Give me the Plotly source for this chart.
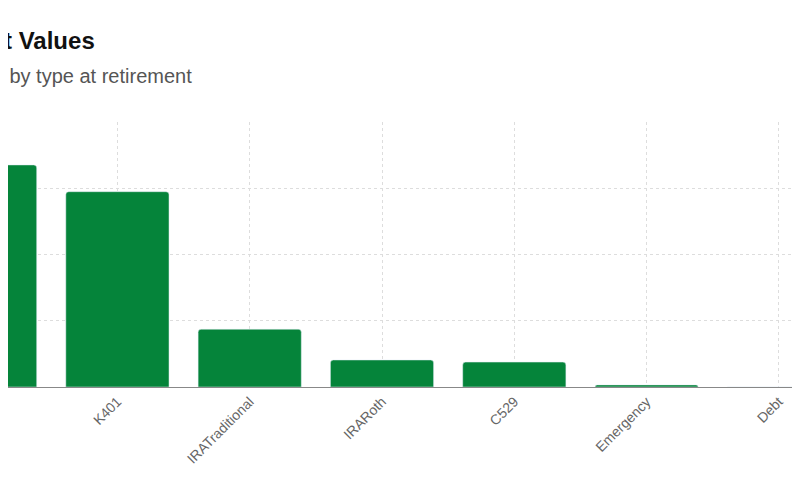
import plotly.graph_objects as go

categories = ["Taxable", "K401", "IRATraditional", "IRARoth", "C529", "Emergency", "Debt"]
values = [838000, 737000, 218000, 102000, 94000, 8000, 0]

fig = go.Figure(go.Bar(x=categories, y=values, marker=dict(color="#05843a", cornerradius=3),
                       width=0.78))
fig.update_layout(
    width=800, height=500, margin=dict(l=0, r=0, t=114, b=121, autoexpand=False),
    plot_bgcolor="white", paper_bgcolor="white", showlegend=False,
    font=dict(family="Liberation Sans, Arial", color="#555"),
    bargap=0.22,
)
fig.update_xaxes(range=[0.173, 6.22], showgrid=True, gridcolor="#dddddd", griddash="3px,3px",
                 tickangle=-45, tickfont=dict(size=14, color="#666"), showline=True,
                 linecolor="#888", linewidth=1, ticks="", automargin=False)
fig.update_yaxes(range=[0, 1000000], dtick=250000, showgrid=True, gridcolor="#dddddd",
                 griddash="3px,3px", showticklabels=False, zeroline=False, automargin=False)
fig.add_annotation(text="<b>Account Values</b>", xref="paper", yref="paper", x=89/800, y=1,
                   xanchor="right", yanchor="bottom", yshift=66, showarrow=False,
                   font=dict(size=24, color="#111"))
fig.add_annotation(text="Account balances by type at retirement", xref="paper", yref="paper",
                   x=186/800, y=1, xanchor="right", yanchor="bottom", yshift=33, showarrow=False,
                   font=dict(size=20, color="#555"))
fig.write_html("out.html")
